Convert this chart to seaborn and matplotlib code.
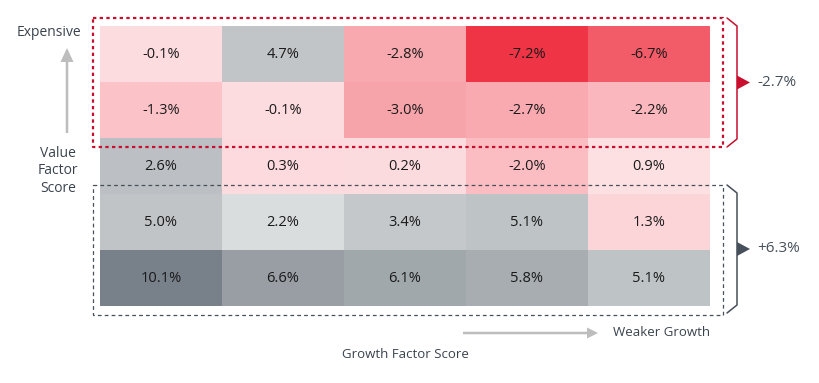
import matplotlib
matplotlib.use("Agg")
import matplotlib.pyplot as plt
from matplotlib.colors import LinearSegmentedColormap, Normalize
from matplotlib.lines import Line2D
from matplotlib.patches import Polygon, FancyArrow
import numpy as np
import pandas as pd
import seaborn as sns

# value quintiles (rows, expensive at top) x growth quintiles (cols, weaker to the right)
row_labels = ["Q1", "Q2", "Q3", "Q4", "Q5"]
col_labels = ["G1", "G2", "G3", "G4", "G5"]
returns = [
    [-0.1, 4.7, -2.8, -7.2, -6.7],
    [-1.3, -0.1, -3.0, -2.7, -2.2],
    [2.6, 0.3, 0.2, -2.0, 0.9],
    [5.0, 2.2, 3.4, 5.1, 1.3],
    [10.1, 6.6, 6.1, 5.8, 5.1],
]
expensive_avg = "-2.7%"
cheap_avg = "+6.3%"

# colour anchors (value -> colour)
anchor_vals = [-7.2, -6.7, -3.0, -2.7, -2.0, -1.3, -0.1, 0.3, 0.9, 1.3, 1.8, 2.2, 2.6, 3.4, 5.1, 5.8, 6.1, 6.6, 10.1]
anchor_cols = ["#ee3445", "#f25d6a", "#f7a3aa", "#f9abb1", "#fbbec3", "#fbc3c7", "#fcdcdf",
               "#fcdade", "#fde0e2", "#fcd4d8", "#dfe1e3", "#dcdfe0", "#bcc0c4", "#c4c8cb",
               "#c0c4c7", "#a8aeb1", "#a1a8ab", "#989ea3", "#78808a"]

RED = "#c8102e"
DARK = "#46505a"
TXT = "#3a434d"
ARROW = "#bdbdbd"

lo, hi = anchor_vals[0], anchor_vals[-1]
cmap = LinearSegmentedColormap.from_list(
    "val_growth", [((v - lo) / (hi - lo), c) for v, c in zip(anchor_vals, anchor_cols)])

df = pd.DataFrame(returns, index=row_labels, columns=col_labels)
annot = df.map(lambda v: f"{v:.1f}%")

sns.set_style("white")
plt.rcParams["font.family"] = ["Open Sans", "DejaVu Sans"]

W, H = 820, 383
fig = plt.figure(figsize=(W / 100, H / 100), dpi=100)
ax = fig.add_axes([100 / W, 1 - 306 / H, 610 / W, 280 / H])
sns.heatmap(df, ax=ax, cmap=cmap, norm=Normalize(lo, hi), cbar=False,
            annot=annot, fmt="", annot_kws={"fontsize": 10.5, "color": "#1a1a1a"},
            linewidths=0)
ax.set_xticks([])
ax.set_yticks([])
ax.set_xlabel("")
ax.set_ylabel("")


def px(x, y):
    return x / W, 1 - y / H


def line(xs, ys, **kw):
    fx = [x / W for x in xs]
    fy = [1 - y / H for y in ys]
    fig.add_artist(Line2D(fx, fy, transform=fig.transFigure, **kw))


def box(x0, y0, x1, y1, **kw):
    line([x0, x1, x1, x0, x0], [y0, y0, y1, y1, y0], **kw)


# dashed group boxes
box(93, 18, 723, 147, color=RED, lw=1.6, linestyle=(0, (1.5, 1.5)))
box(93, 185, 723, 315, color=DARK, lw=0.9, linestyle=(0, (3, 2.5)))


# brackets with pointer triangles
def bracket(y0, y1, color, label):
    line([727, 737, 737, 727], [y0, y0 + 8, y1 - 8, y1], color=color, lw=1.1)
    ym = (y0 + y1) / 2
    tri = Polygon([px(737, ym - 7), px(750, ym), px(737, ym + 7)], closed=True,
                  transform=fig.transFigure, color=color, lw=0)
    fig.add_artist(tri)
    fig.text(*px(757, ym), label, color=DARK, fontsize=11, va="center", ha="left")


bracket(18, 147, RED, expensive_avg)
bracket(185, 313, DARK, cheap_avg)

# axis arrows and labels
fig.add_artist(FancyArrow(*px(67, 133), 0, (133 - 48) / H, width=2.5 / W, head_width=13 / W,
                          head_length=14 / H, length_includes_head=True,
                          transform=fig.transFigure, color=ARROW, lw=0))
fig.add_artist(FancyArrow(*px(463, 333), (598 - 463) / W, 0, width=2.5 / H, head_width=11 / H,
                          head_length=11 / W, length_includes_head=True,
                          transform=fig.transFigure, color=ARROW, lw=0))

fig.text(*px(49, 33), "Expensive", color=TXT, fontsize=10, ha="center", va="center")
fig.text(*px(58, 171), "Value\nFactor\nScore", color=TXT, fontsize=10, ha="center",
         va="center", linespacing=1.2)
fig.text(*px(613, 333), "Weaker Growth", color=TXT, fontsize=9.5, ha="left", va="center")
fig.text(*px(405, 355), "Growth Factor Score", color=TXT, fontsize=9.5, ha="center", va="center")

fig.savefig("out.png", dpi=100)
